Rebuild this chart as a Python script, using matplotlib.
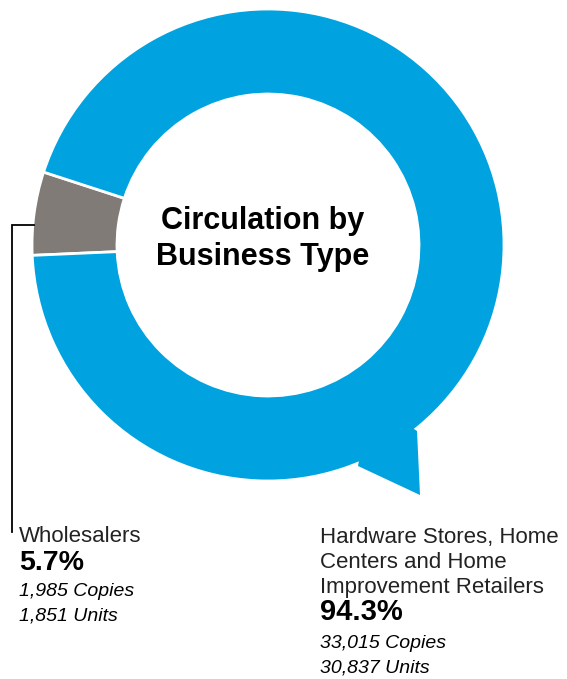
import matplotlib.pyplot as plt
from matplotlib.patches import Polygon

# Circulation by business type
labels = ["Wholesalers", "Hardware Stores, Home\nCenters and Home\nImprovement Retailers"]
shares = [5.7, 94.3]
copies = ["1,985 Copies", "33,015 Copies"]
units = ["1,851 Units", "30,837 Units"]
colors = ["#807B77", "#00A3E0"]

W, H = 567, 679
fig = plt.figure(figsize=(W / 100, H / 100), dpi=100)
ax = fig.add_axes([0, 0, 1, 1])

def py(y):
    # pixel row -> data y
    return H - y

cx, cy, R = 268, py(245), 236

ax.pie(shares, colors=colors, startangle=162, counterclock=True,
       center=(cx, cy), radius=R, frame=True,
       wedgeprops=dict(width=85, edgecolor="white", linewidth=2))

# speech bubble tail, drawn over the ring so the join has no white seam
tail = Polygon([(358, py(466)), (370, py(400)), (417, py(431)), (420, py(495))],
               closed=True, facecolor=colors[1], edgecolor="none", zorder=5)
ax.add_patch(tail)

ax.set_xlim(0, W)
ax.set_ylim(0, H)
ax.set_aspect("equal")
ax.axis("off")

fam = ["Liberation Sans", "DejaVu Sans"]

ax.text(cx - 5, py(239), "Circulation by\nBusiness Type", ha="center", va="center",
        fontsize=22, fontweight="bold", family=fam, linespacing=1.25)

# leader line for the wholesalers slice
ax.plot([34, 12, 12], [py(225), py(225), py(532)], color="black", lw=1.3,
        solid_joinstyle="miter")

# Wholesalers label block
ax.text(19, py(536), labels[0], fontsize=16, family=fam, va="center", color="#222222")
ax.text(19, py(563), f"{shares[0]}%", fontsize=20.5, fontweight="bold", family=fam, va="center")
ax.text(19, py(592), copies[0], fontsize=14, style="italic", family=fam, va="center")
ax.text(19, py(616), units[0], fontsize=14, style="italic", family=fam, va="center")

# Hardware stores label block
for i, line in enumerate(labels[1].split("\n")):
    ax.text(320, py(537 + 25 * i), line, fontsize=16, family=fam, va="center", color="#222222")
ax.text(320, py(612), f"{shares[1]}%", fontsize=21, fontweight="bold", family=fam, va="center")
ax.text(320, py(643), copies[1], fontsize=14, style="italic", family=fam, va="center")
ax.text(320, py(668), units[1], fontsize=14, style="italic", family=fam, va="center")

fig.savefig("out.png", dpi=100)
